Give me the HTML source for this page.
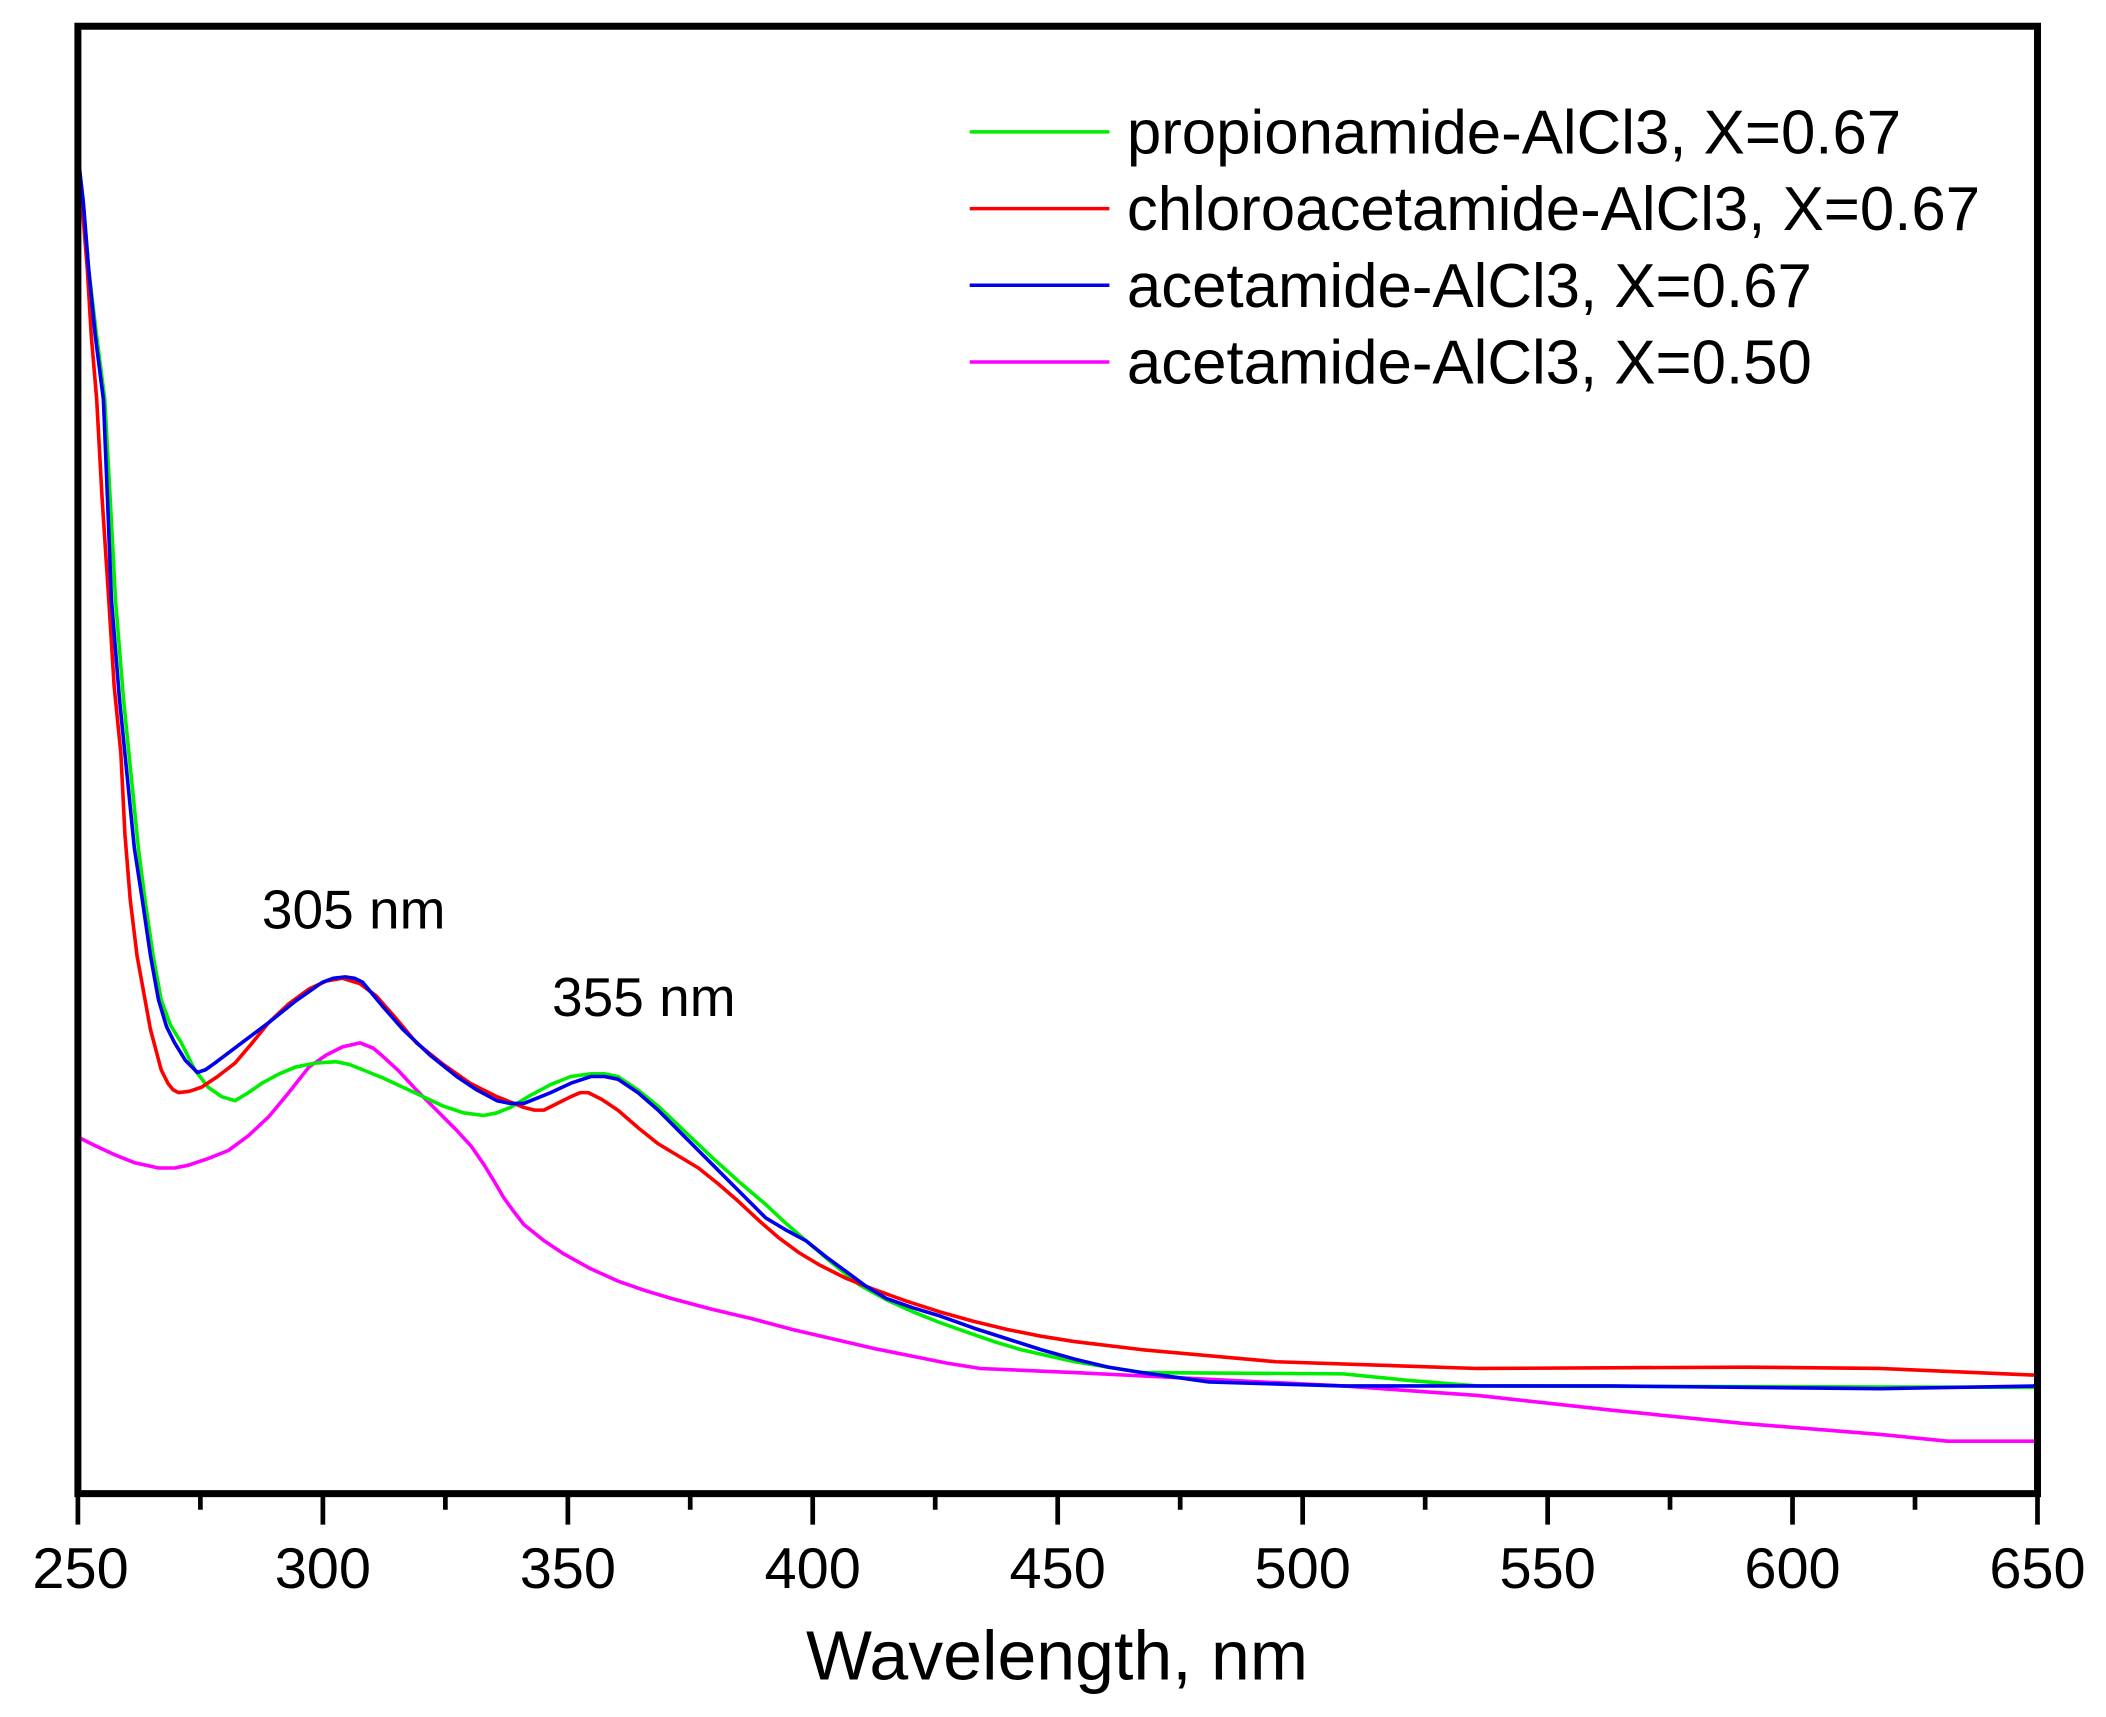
<!DOCTYPE html>
<html><head><meta charset="utf-8"><style>
html,body{margin:0;padding:0;background:#fff;}
svg{display:block;}
text{font-family:"Liberation Sans",Arial,sans-serif;fill:#000;}
</style></head><body>
<svg width="2106" height="1717" viewBox="0 0 1568 1276" preserveAspectRatio="none" xmlns="http://www.w3.org/2000/svg">
<rect width="1568" height="1276" fill="#fff"/>
<g fill="none" stroke-linejoin="round" stroke-linecap="round">
<polyline vector-effect="non-scaling-stroke" stroke-width="3.6" stroke="#ff00ff" points="58,845 70,851 85,858 100,864 118,868 130,868 140,866 155,861 170,855 185,844 200,830 215,812 230,793 243,784 255,778 268,775 278,779 285,785 297,796 310,810 325,825 340,840 351,852 360,865 368,878 375,890 383,901 390,910 405,922 420,932 440,943 460,952 480,959 500,965 530,973 560,980 590,988 620,995 650,1002 680,1008 705,1013 730,1017 800,1020 900,1025 1000,1030 1100,1037 1200,1048 1300,1058 1400,1066 1450,1071 1515,1071"/>
<polyline vector-effect="non-scaling-stroke" stroke-width="3.6" stroke="#00ee00" points="58,115 62,150 66,200 72,250 78,297 82,370 86,446 92,520 98,580 103,630 108,669 114,710 120,743 127,762 135,775 145,795 155,808 165,815 175,818 185,812 195,805 208,798 220,793 235,790 250,789 260,791 270,795 285,801 300,808 315,815 330,822 345,827 360,829 370,827 380,823 395,814 410,806 425,800 440,798 450,798 460,800 475,810 490,822 510,841 530,860 550,878 570,895 585,909 600,922 620,939 640,955 660,966 680,975 700,983 720,990 740,997 760,1003 800,1012 850,1020 1000,1021 1050,1026 1100,1030 1517,1031"/>
<polyline vector-effect="non-scaling-stroke" stroke-width="3.6" stroke="#ff0000" points="58,115 61,150 65,200 68,250 72,297 76,370 81,446 85,510 90,560 93,620 97,669 102,710 108,743 112,765 116,780 120,795 125,805 129,810 133,812 141,811 150,808 162,800 175,790 187,776 200,760 215,746 230,735 243,729 255,727 268,731 280,740 295,757 310,775 330,791 350,805 370,815 390,823 398,825 405,825 415,820 425,815 432,812 438,812 448,817 460,825 475,838 490,850 505,859 520,868 535,880 550,893 565,907 580,920 595,931 610,940 630,950 650,958 675,967 700,975 725,982 750,988 775,993 800,997 850,1003 950,1012 1100,1017 1300,1016 1400,1017 1517,1022"/>
<polyline vector-effect="non-scaling-stroke" stroke-width="3.6" stroke="#0000ee" points="58,115 62,150 66,200 71,250 77,297 80,370 83,446 89,520 95,580 100,630 106,669 112,710 118,743 124,763 130,775 138,788 147,797 153,795 160,790 180,775 200,760 220,744 240,730 248,727 257,726 264,727 270,730 285,748 300,765 320,784 340,800 355,810 370,818 380,820 390,820 400,816 410,812 425,805 440,800 450,800 460,802 475,812 490,825 510,845 530,865 550,885 570,905 585,914 600,922 615,934 630,945 645,956 660,965 680,972 700,978 725,987 750,995 775,1003 800,1010 825,1016 850,1020 900,1027 1000,1030 1200,1030 1400,1032 1517,1030"/>
</g>
<g stroke="#000" fill="none">
<rect x="58" y="19.5" width="1459" height="1090.5" stroke-width="5.2"/>
<path stroke-width="3.5" d="M58,1110V1133 M240.4,1110V1133 M422.8,1110V1133 M605.1,1110V1133 M787.5,1110V1133 M969.9,1110V1133 M1152.3,1110V1133 M1334.6,1110V1133 M1517,1110V1133 M149.2,1110V1122 M331.6,1110V1122 M513.9,1110V1122 M696.3,1110V1122 M878.7,1110V1122 M1061.1,1110V1122 M1243.4,1110V1122 M1425.8,1110V1122"/>
</g>
<g font-size="43" text-anchor="middle">
<text x="60" y="1180">250</text><text x="240.4" y="1180">300</text><text x="422.8" y="1180">350</text><text x="605.1" y="1180">400</text><text x="787.5" y="1180">450</text><text x="969.9" y="1180">500</text><text x="1152.3" y="1180">550</text><text x="1334.6" y="1180">600</text><text x="1517" y="1180">650</text>
</g>
<text x="787" y="1248" font-size="52" text-anchor="middle">Wavelength, nm</text>
<text x="195" y="690" font-size="41">305 nm</text>
<text x="411" y="755" font-size="41">355 nm</text>
<g>
<line vector-effect="non-scaling-stroke" x1="722" y1="98" x2="826" y2="98" stroke="#00ee00" stroke-width="3.5"/>
<line vector-effect="non-scaling-stroke" x1="722" y1="155" x2="826" y2="155" stroke="#ff0000" stroke-width="3.5"/>
<line vector-effect="non-scaling-stroke" x1="722" y1="212" x2="826" y2="212" stroke="#0000ee" stroke-width="3.5"/>
<line vector-effect="non-scaling-stroke" x1="722" y1="269" x2="826" y2="269" stroke="#ff00ff" stroke-width="3.5"/>
</g>
<g font-size="46">
<text x="839" y="114">propionamide-AlCl3, X=0.67</text>
<text x="839" y="171">chloroacetamide-AlCl3, X=0.67</text>
<text x="839" y="228">acetamide-AlCl3, X=0.67</text>
<text x="839" y="285">acetamide-AlCl3, X=0.50</text>
</g>
</svg>
</body></html>
